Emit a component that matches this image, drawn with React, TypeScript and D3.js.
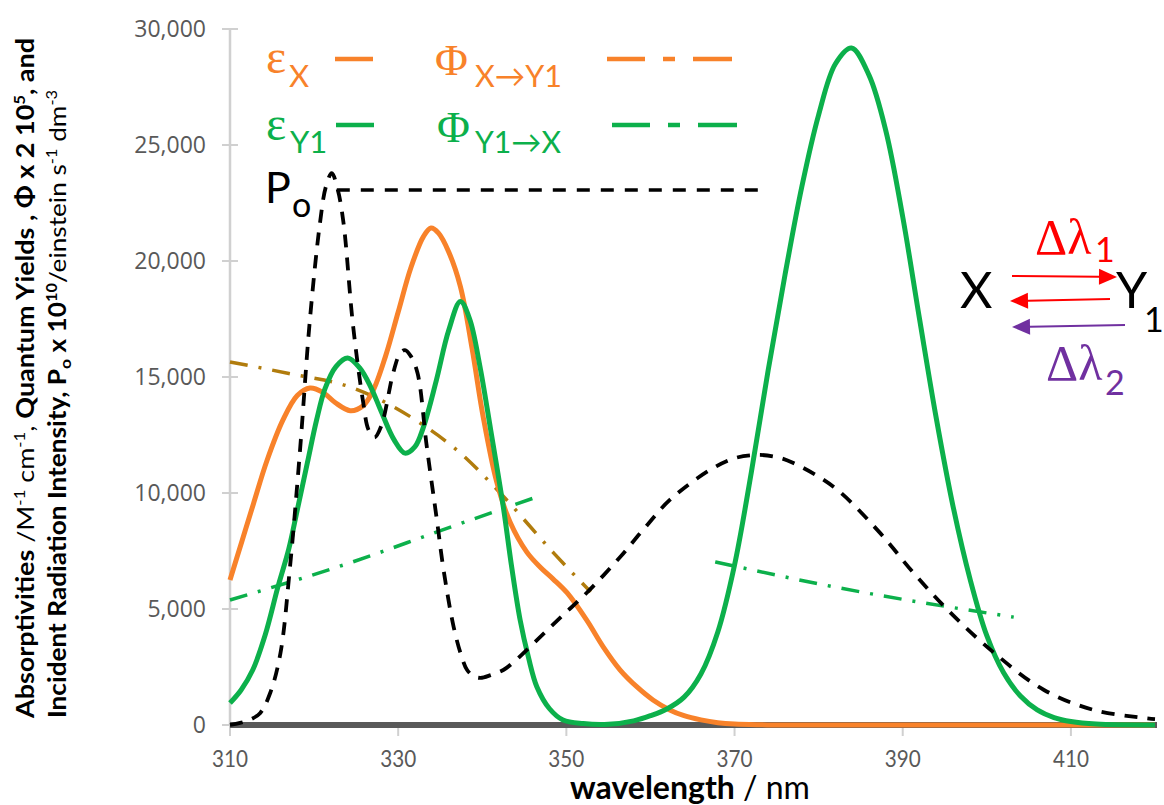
import React from 'react';
import * as d3 from 'd3';

// ---------- data ----------
const xTicks = [310, 330, 350, 370, 390, 410];
const yTicks = [0, 5000, 10000, 15000, 20000, 25000, 30000];

// Absorptivity of X (orange, solid): [wavelength nm, value]
const epsX: [number, number][] = [
  [310, 6250], [311.4, 7900], [312.8, 9550], [314.4, 11400], [316.3, 13150], [318, 14200],
  [319.5, 14525], [321, 14350], [322.5, 13900], [324.3, 13550], [325.8, 13750], [327, 14400],
  [328.5, 15900], [330, 17800], [331.5, 19700], [333, 21050], [333.9, 21420], [334.8, 21200],
  [336, 20400], [337.4, 18900], [338.8, 16200], [340.1, 13300], [341.7, 10500], [343.3, 8750],
  [345.3, 7450], [346.9, 6800], [348.4, 6300], [350.1, 5690], [352.4, 4530], [354.4, 3360],
  [356.4, 2370], [358.4, 1640], [360.3, 1080], [362.3, 650], [364, 400], [366, 220], [368, 100],
  [370, 40], [373, 10], [376, 0], [420, 0],
];

// Absorptivity of Y1 (green, solid)
const epsY1: [number, number][] = [
  [310, 950], [311.3, 1500], [312.7, 2370], [314.2, 3900], [315.7, 5950], [317, 7600], [318, 9270],
  [319.2, 11300], [320.3, 13150], [321.3, 14500], [322.6, 15450], [324, 15820], [325.4, 15400],
  [326.7, 14600], [328, 13500], [329.5, 12300], [330.8, 11720], [332, 12000], [333, 12840],
  [334.5, 14800], [336, 17000], [337.4, 18250], [338.5, 17500], [339.7, 15500], [341, 12720],
  [342.5, 9400], [343.5, 6800], [344.5, 4530], [345.5, 2900], [346.5, 1640], [348, 700],
  [349.6, 215], [352, 60], [355, 30], [358, 180], [360, 400], [362, 700], [364, 1200],
  [366, 2200], [368, 4000], [370, 6900], [372, 10900], [374, 15300], [376, 19400],
  [378, 23200], [380, 26300], [382, 28500], [383.9, 29180], [386, 28000], [388, 25600],
  [390, 21900], [392, 17500], [394, 13200], [396, 9400], [398, 6300], [400, 3850],
  [402, 2250], [404, 1250], [406, 650], [408, 320], [410, 150], [413, 40], [420, 0],
];

// Incident radiation intensity Po (black, dashed)
const po: [number, number][] = [
  [310, 0], [311.2, 90], [312.5, 250], [313.6, 520], [314.8, 1400], [316, 3100], [317.1, 6680],
  [318.3, 11720], [319.5, 17460], [320.7, 21640], [321.4, 23200], [322.1, 23790], [322.8, 23100],
  [323.5, 21640], [324.6, 17330], [325.8, 14000], [326.5, 12700], [327.2, 12400], [328, 12900],
  [329.4, 15170], [330.2, 16000], [330.8, 16160], [331.5, 15900], [332.3, 15170], [333.4, 12000],
  [334.6, 8840], [335.4, 6680], [336.6, 4220], [337.5, 3000], [338.2, 2370], [339, 2100],
  [339.8, 2030], [341, 2150], [342.5, 2370], [343.6, 2670], [346.5, 3660], [349.5, 4700],
  [352.4, 5690], [356.4, 7240], [359.1, 8400], [362.3, 9700], [367.1, 11000], [370, 11500],
  [372.7, 11640], [375, 11550], [377, 11290], [381.8, 10260], [387, 8400], [391.3, 6550],
  [395.7, 4830], [400.9, 3100], [406.8, 1510], [412.7, 650], [418.7, 300], [420, 250],
];

// Quantum yield X -> Y1 (brown, dash-dot), scaled
const phiXY: [number, number][] = [
  [310, 15650], [317, 15150], [324.6, 14530], [332.6, 13020], [337.4, 11720], [341.8, 10130],
  [348.5, 7410], [352.9, 5730],
];

// Quantum yield Y1 -> X (green, dash-dot), two wavelength ranges
const phiYX1: [number, number][] = [[310, 5390], [324.6, 7030], [335.2, 8400], [346.1, 9780]];
const phiYX2: [number, number][] = [[367.7, 7030], [382.6, 5900], [403.2, 4650]];

// Po reference level drawn beside its label
const poLegend: [number, number][] = [[322.7, 23060], [373.7, 23060]];

// ---------- layout ----------
const W = 1164;
const H = 805;
const x = d3.scaleLinear().domain([310, 420]).range([230, 1155]);
const y = d3.scaleLinear().domain([0, 30000]).range([725, 29]);

const lineGen = d3
  .line<[number, number]>()
  .x((d) => x(d[0]))
  .y((d) => Math.min(y(d[1]), y(0)))
  .curve(d3.curveCatmullRom.alpha(0.5));

const straight = d3
  .line<[number, number]>()
  .x((d) => x(d[0]))
  .y((d) => y(d[1]))
  .curve(d3.curveMonotoneX);

const ORANGE = '#f8822a';
const GREEN = '#0cb04b';
const BROWN = '#b17c0d';
const GREY = '#595959';
const CAL = 'Lato, "Open Sans", sans-serif';
const SERIF = '"Liberation Serif", "DejaVu Serif", serif';

function Arrow({ x1, y1, x2, y2, color }: { x1: number; y1: number; x2: number; y2: number; color: string }) {
  const ang = Math.atan2(y2 - y1, x2 - x1);
  const L = 18;
  const Wd = 8;
  const bx = x2 - L * Math.cos(ang);
  const by = y2 - L * Math.sin(ang);
  const px = -Math.sin(ang) * Wd;
  const py = Math.cos(ang) * Wd;
  return (
    <g>
      <line x1={x1} y1={y1} x2={bx} y2={by} stroke={color} strokeWidth={2} />
      <polygon points={`${x2},${y2} ${bx + px},${by + py} ${bx - px},${by - py}`} fill={color} />
    </g>
  );
}

export default function App() {
  return (
    <svg
      width={W}
      height={H}
      viewBox={`0 0 ${W} ${H}`}
      style={{ position: 'absolute', left: 0, top: 0, background: '#fff' }}
    >
      <rect x={0} y={0} width={W} height={H} fill="#fff" />

      {/* y axis */}
      <line x1={x(310)} y1={y(30000)} x2={x(310)} y2={y(0)} stroke="#d0d0d0" strokeWidth={2.5} />
      {yTicks.map((t) => (
        <g key={t}>
          <line x1={222} x2={238} y1={y(t)} y2={y(t)} stroke="#d0d0d0" strokeWidth={2} />
          <text
            x={206}
            y={y(t)}
            dy="0.35em"
            textAnchor="end"
            fontFamily='"Open Sans", sans-serif'
            fontSize={23}
            fill={GREY}
          >
            {d3.format(',')(t)}
          </text>
        </g>
      ))}

      {/* x axis ticks & labels */}
      {xTicks.map((t) => (
        <g key={t}>
          <line x1={x(t)} x2={x(t)} y1={y(0)} y2={y(0) + 11} stroke="#d0d0d0" strokeWidth={2} />
          <text
            x={x(t)}
            y={767}
            textAnchor="middle"
            fontFamily={CAL}
            fontSize={24}
            fill={GREY}
            textLength={36}
            lengthAdjust="spacingAndGlyphs"
          >
            {t}
          </text>
        </g>
      ))}
      <line x1={x(310)} x2={x(420) + 2} y1={y(0)} y2={y(0)} stroke={GREY} strokeWidth={6} />

      {/* series */}
      <path d={straight(phiXY) || ''} fill="none" stroke={BROWN} strokeWidth={3.5} strokeDasharray="18 11 3 11" />
      <path d={straight(phiYX1) || ''} fill="none" stroke={GREEN} strokeWidth={3.5} strokeDasharray="18 11 3 11" />
      <path d={straight(phiYX2) || ''} fill="none" stroke={GREEN} strokeWidth={3.5} strokeDasharray="18 11 3 11" />
      <path d={lineGen(epsX) || ''} fill="none" stroke={ORANGE} strokeWidth={5} />
      <path d={lineGen(epsY1) || ''} fill="none" stroke={GREEN} strokeWidth={5} />
      <path d={lineGen(po) || ''} fill="none" stroke="#000" strokeWidth={3.8} strokeDasharray="13 10" />
      <path d={straight(poLegend) || ''} fill="none" stroke="#000" strokeWidth={3.5} strokeDasharray="13 11" />

      {/* legend */}
      <text x={266} y={73} fontFamily={SERIF} fontSize={48} fill={ORANGE}>ε</text>
      <text x={289} y={87} fontFamily={CAL} fontSize={31} fill={ORANGE}>X</text>
      <line x1={335} x2={373} y1={59} y2={59} stroke={ORANGE} strokeWidth={4.5} />
      <text x={435} y={75} fontFamily={SERIF} fontSize={45} fill={ORANGE}>Φ</text>
      <text x={475} y={87} fontFamily={CAL} fontSize={31} fill={ORANGE} textLength={87} lengthAdjust="spacingAndGlyphs">X→Y1</text>
      <line x1={607} x2={645} y1={59} y2={59} stroke={ORANGE} strokeWidth={4.5} />
      <line x1={663} x2={675} y1={59} y2={59} stroke={ORANGE} strokeWidth={4.5} />
      <line x1={693} x2={732} y1={59} y2={59} stroke={ORANGE} strokeWidth={4.5} />

      <text x={266} y={140} fontFamily={SERIF} fontSize={48} fill={GREEN}>ε</text>
      <text x={290} y={153} fontFamily={CAL} fontSize={31} fill={GREEN}>Y1</text>
      <line x1={336} x2={374} y1={125} y2={125} stroke={GREEN} strokeWidth={4.5} />
      <text x={437} y={142} fontFamily={SERIF} fontSize={45} fill={GREEN}>Φ</text>
      <text x={475} y={153} fontFamily={CAL} fontSize={31} fill={GREEN} textLength={86} lengthAdjust="spacingAndGlyphs">Y1→X</text>
      <line x1={612} x2={650} y1={125} y2={125} stroke={GREEN} strokeWidth={4.5} />
      <line x1={668} x2={680} y1={125} y2={125} stroke={GREEN} strokeWidth={4.5} />
      <line x1={698} x2={737} y1={125} y2={125} stroke={GREEN} strokeWidth={4.5} />

      <text x={265} y={203} fontFamily={CAL} fontSize={43} fill="#000">P</text>
      <text x={292} y={217} fontFamily={CAL} fontSize={34} fill="#000">o</text>

      {/* reaction scheme */}
      <text x={1035} y={254} fontFamily={SERIF} fontSize={50} fill="#ff0000">Δλ</text>
      <text x={1095} y={262} fontFamily={CAL} fontSize={34} fill="#ff0000">1</text>
      <text x={960} y={308} fontFamily={CAL} fontSize={50} fill="#000">X</text>
      <text x={1116} y={308} fontFamily={CAL} fontSize={50} fill="#000">Y</text>
      <text x={1144} y={332} fontFamily={CAL} fontSize={34} fill="#000">1</text>
      <Arrow x1={1012} y1={276} x2={1117} y2={277} color="#ff0000" />
      <Arrow x1={1110} y1={299} x2={1010} y2={301} color="#ff0000" />
      <Arrow x1={1125} y1={325} x2={1012} y2={327} color="#7030a0" />
      <text x={1046} y={380} fontFamily={SERIF} fontSize={50} fill="#7030a0">Δλ</text>
      <text x={1105} y={395} fontFamily={CAL} fontSize={34} fill="#7030a0">2</text>

      {/* axis titles */}
      <text x={690} y={799} textAnchor="middle" fontFamily={CAL} fontSize={32} fill="#000">
        <tspan fontWeight="bold">wavelength</tspan>
        <tspan> / nm</tspan>
      </text>

      <text
        transform="translate(34,718) rotate(-90)"
        fontFamily={CAL}
        fontSize={24}
        fill="#000"
        textLength={680}
        lengthAdjust="spacingAndGlyphs"
      >
        <tspan fontWeight="bold">Absorptivities</tspan>
        <tspan> /M</tspan>
        <tspan dy={-9} fontSize={15}>-1</tspan>
        <tspan dy={9}> cm</tspan>
        <tspan dy={-9} fontSize={15}>-1</tspan>
        <tspan dy={9}>,  </tspan>
        <tspan fontWeight="bold">Quantum Yields ,  Φ x 2 10</tspan>
        <tspan dy={-9} fontSize={15} fontWeight="bold">5</tspan>
        <tspan dy={9} fontWeight="bold">,  and</tspan>
      </text>
      <text
        transform="translate(66,718) rotate(-90)"
        fontFamily={CAL}
        fontSize={24}
        fill="#000"
        textLength={628}
        lengthAdjust="spacingAndGlyphs"
      >
        <tspan fontWeight="bold">Incident Radiation Intensity, P</tspan>
        <tspan dy={5} fontSize={16} fontWeight="bold">o</tspan>
        <tspan dy={-5} fontWeight="bold"> x 10</tspan>
        <tspan dy={-9} fontSize={15} fontWeight="bold">10</tspan>
        <tspan dy={9}>/einstein s</tspan>
        <tspan dy={-9} fontSize={15}>-1</tspan>
        <tspan dy={9}> dm</tspan>
        <tspan dy={-9} fontSize={15}>-3</tspan>
      </text>
    </svg>
  );
}
